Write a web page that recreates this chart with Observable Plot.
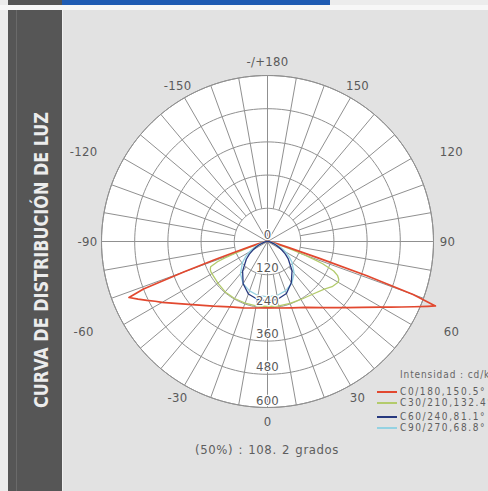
<!DOCTYPE html>
<html>
<head>
<meta charset="utf-8">
<script src="https://cdn.jsdelivr.net/npm/d3@7"></script>
<script src="https://cdn.jsdelivr.net/npm/@observablehq/plot@0.6"></script>
<style>
  html, body { margin: 0; padding: 0; }
  body { width: 488px; height: 491px; overflow: hidden; position: relative; background: #ececec; font-family: "DejaVu Sans Condensed", "DejaVu Sans", sans-serif; }
  .abs { position: absolute; }
  #legend div { position: absolute; white-space: nowrap; }
</style>
</head>
<body>
<div class="abs" style="left:8px;top:0;width:54px;height:5px;background:#555555"></div>
<div class="abs" style="left:62px;top:0;width:268px;height:5px;background:#1f5cb3"></div>
<div class="abs" style="left:0;top:5px;width:488px;height:5px;background:#f7f7f7"></div>
<div class="abs" style="left:8px;top:10px;width:54px;height:481px;background:#565656"></div>
<div class="abs" style="left:16px;top:10px;width:1px;height:481px;background:#6a6a6a"></div>
<div class="abs" style="left:62px;top:10px;width:1px;height:481px;background:#f0f0f0"></div>
<div class="abs" style="left:63px;top:10px;width:425px;height:481px;background:#e2e2e2"></div>
<svg class="abs" style="left:8px;top:10px" width="54" height="481">
  <text id="paneltitle" transform="translate(33,250) rotate(-90)" text-anchor="middle" dominant-baseline="central"
        font-family="DejaVu Sans Condensed" font-weight="bold" font-size="19" fill="#ececec"
        textLength="296" lengthAdjust="spacingAndGlyphs">CURVA DE DISTRIBUCIÓN DE LUZ</text>
</svg>
<div id="chart" class="abs" style="left:62px;top:10px"></div>
<div id="subtitle" class="abs" style="left:162px;top:442px;width:210px;text-align:center;font-size:13px;color:#5e5e5e;letter-spacing:0.6px;word-spacing:1px">(50%) : 108. 2 grados</div>
<div id="legend" class="abs" style="left:0;top:0"></div>
<script>
// ---------------- data ----------------
const gammaAngles = [0,10,20,30,40,50,55,60,62,64,66,68,69,70,71,72,74,76,80,85,90,120,150,180];
// C-plane intensities (cd/klm) on each half of the plane
const c0   = [240,244,255,275,312,372,415,475,505,540,580,625,650,560,380,200,80,40,18,8,4,2,1,0];
const c180 = [240,244,255,273,305,355,392,440,460,485,512,540,480,320,200,120,60,35,15,8,4,2,1,0];
const c30  = [235,236,238,242,250,268,285,295,292,282,262,215,180,140,105,80,45,25,12,5,3,2,1,0];
const c210 = [235,236,237,238,238,234,232,232,232,230,225,195,165,125,95,70,40,25,12,5,3,2,1,0];
const c60  = [215,212,200,172,138,98,78,58,50,43,37,31,28,25,23,21,17,14,9,5,3,1,0,0];
const c240 = [215,212,202,176,140,100,80,60,52,45,38,32,29,26,23,21,17,14,9,5,3,1,0,0];
const c90  = [200,198,190,175,150,115,95,75,66,58,50,43,40,36,33,30,25,20,13,7,4,1,0,0];
const c270 = [200,198,190,176,152,118,97,76,67,59,51,44,40,36,33,30,25,20,13,7,4,1,0,0];

const seriesNames  = ["C0/180", "C30/210", "C60/240", "C90/270"];
const seriesColors = ["#e2482f", "#b3cb6c", "#27397f", "#94d2e2"];
const seriesRight  = [c0, c30, c60, c90];
const seriesLeft   = [c180, c210, c240, c270];
const beamAngles   = ["150.5°", "132.4°", "81.1°", "68.8°"];

const ringValues = [0, 120, 240, 360, 480, 600];
const angleTicks = [0, 30, 60, 90, 120, 150, 180, -150, -120, -90, -60, -30];
const angleTickLabels = ["0","30","60","90","120","150","-/+180","-150","-120","-90","-60","-30"];
const legendTitle = "Intensidad : cd/klm";
const halfAngleText = "(50%) : 108. 2 grados";

// ---------------- geometry ----------------
const W = 426, H = 481;          // plot size
const CX = 205, CY = 231;        // pole position inside the plot (px)
const RPX = 166;                 // outer ring radius (px)
const RMAX = 600;
const K = RPX / RMAX;            // px per cd
const rad = d => d * Math.PI / 180;
const px = (r, a) => r * Math.sin(rad(a));
const py = (r, a) => r * Math.cos(rad(a));   // 0 deg points down

const disk = d3.range(0, 361, 2).map(a => ({x: px(RMAX, a), y: py(RMAX, a)}));
const rings = ringValues.filter(v => v > 0).flatMap(v =>
  d3.range(0, 361, 2).map(a => ({ring: v, x: px(v, a), y: py(v, a)})));
const spokes = d3.range(0, 360, 10).map(a => {
  const r0 = a % 30 === 0 ? 0 : ringValues[1];
  return {x1: px(r0, a), y1: py(r0, a), x2: px(RMAX, a), y2: py(RMAX, a)};
});

function curvePoints(i) {
  const pts = [];
  gammaAngles.forEach((g, j) => pts.push({x: px(seriesRight[i][j], g), y: py(seriesRight[i][j], g)}));
  for (let j = gammaAngles.length - 1; j >= 0; j--) {
    const g = -gammaAngles[j];
    pts.push({x: px(seriesLeft[i][j], g), y: py(seriesLeft[i][j], g)});
  }
  return pts;
}

const labOff = 14 / K, push = 28 / K;
const angleLabels = angleTicks.map((a, i) => {
  const extra = (Math.abs(a) === 60 || Math.abs(a) === 120) ? Math.sign(a) * push : 0;
  return {text: angleTickLabels[i], x: px(RMAX + labOff, a) + extra, y: py(RMAX + labOff, a)};
});
const ringLabels = ringValues.map(v => ({text: String(v), x: 0, y: v}));

const grid = "#909090";
const marks = [
  Plot.line(disk, {x: "x", y: "y", fill: "white", stroke: grid, strokeWidth: 1}),
  Plot.line(rings, {x: "x", y: "y", z: "ring", stroke: grid, strokeWidth: 1}),
  Plot.link(spokes, {x1: "x1", y1: "y1", x2: "x2", y2: "y2", stroke: grid, strokeWidth: 1})
];
[1, 0, 3, 2].forEach(i => {
  marks.push(Plot.line(curvePoints(i), {x: "x", y: "y", stroke: seriesColors[i], strokeWidth: i === 0 ? 1.7 : 1.3, strokeLinejoin: "round"}));
});
marks.push(Plot.text(ringLabels, {x: "x", y: "y", text: "text", dy: -7, fontSize: 13, fill: "#5a5a5a", stroke: "white", strokeWidth: 2.5}));
marks.push(Plot.text(angleLabels, {x: "x", y: "y", text: "text", fontSize: 13, fill: "#5a5a5a"}));

const chart = Plot.plot({
  width: W, height: H,
  marginTop: 0, marginRight: 0, marginBottom: 0, marginLeft: 0,
  x: {domain: [-CX / K, (W - CX) / K], range: [0, W], axis: null},
  y: {domain: [-CY / K, (H - CY) / K], range: [0, H], axis: null},
  style: {background: "transparent", fontFamily: "DejaVu Sans Condensed", letterSpacing: "0.3px", overflow: "visible"},
  marks
});
document.getElementById("chart").appendChild(chart);
document.getElementById("subtitle").textContent = halfAngleText;

// legend
const legend = document.getElementById("legend");
const rowsY = [392, 403, 417, 428];
const t = document.createElement("div");
t.textContent = legendTitle;
Object.assign(t.style, {left: "400px", top: (375 - 5) + "px", fontSize: "10px", color: "#666", letterSpacing: "0.9px", lineHeight: "10px"});
legend.appendChild(t);
seriesNames.forEach((n, i) => {
  const sw = document.createElement("div");
  Object.assign(sw.style, {left: "377px", top: (rowsY[i] - 1) + "px", width: "20px", height: "1.5px", background: seriesColors[i]});
  legend.appendChild(sw);
  const lab = document.createElement("div");
  lab.textContent = n + "," + beamAngles[i];
  Object.assign(lab.style, {left: "400px", top: (rowsY[i] - 5) + "px", fontSize: "10px", color: "#5e5e5e", letterSpacing: "1.6px", lineHeight: "10px"});
  legend.appendChild(lab);
});
</script>
</body>
</html>
